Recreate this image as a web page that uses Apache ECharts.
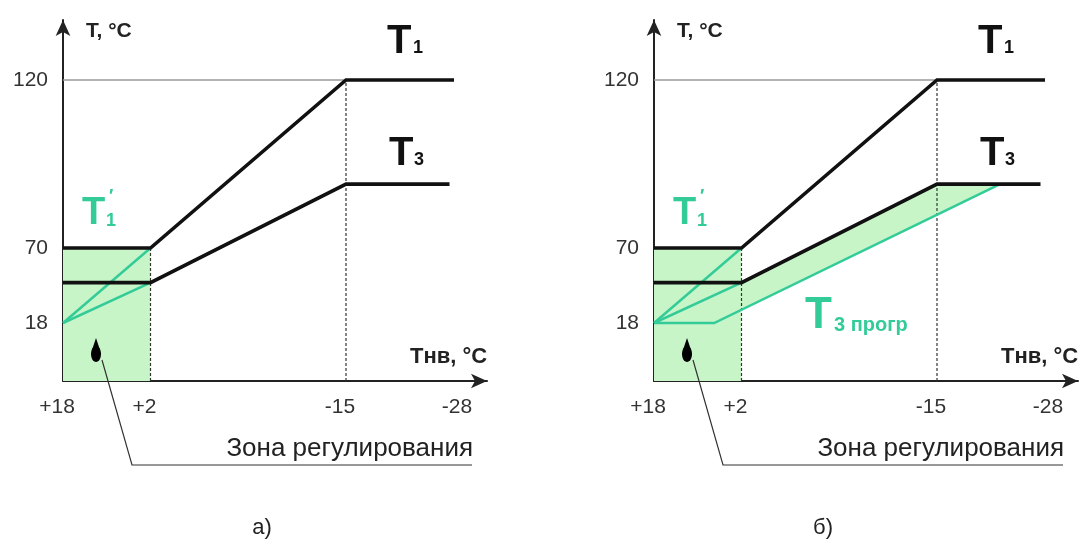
<!DOCTYPE html>
<html>
<head>
<meta charset="utf-8">
<script src="https://cdn.jsdelivr.net/npm/echarts@6/dist/echarts.min.js"></script>
<style>
html,body{margin:0;padding:0;background:#fff;}
#chart{width:1085px;height:549px;}
</style>
</head>
<body>
<div id="chart"></div>
<script>
// ---------- DATA (real values, °C) ----------
const xTickValues = [18, 2, -15, -28];
const xTickLabels = ['+18', '+2', '-15', '-28'];
const yTickValues = [18, 70, 120];
const yTickLabels = ['18', '70', '120'];

// T1: supply temperature schedule (Tнв, T)
const t1X = [18, 2, -15, -27];
const t1Y = [70, 70, 120, 120];
// T3: return temperature schedule
const t3X = [18, 2, -15, -26.5];
const t3Y = [46, 46, 89, 89];
// T1' (regulated zone lines)
const t1pUpperX = [18, 2];
const t1pUpperY = [18, 70];
const t1pLowerX = [18, 2];
const t1pLowerY = [18, 46];
// T3 прогр (panel б)
const t3pX = [18, 7, -22];
const t3pY = [18, 18, 89];
// Регулирование zone
const zoneX = [18, 2];
const zoneY = [0, 70];
// Reference line at 120 and dashed guides
const refLineX = [18, -15];
const refLineY = [120, 120];
const guide1X = [2, 2];
const guide1Y = [0, 70];
const guide2X = [-15, -15];
const guide2Y = [0, 120];

// ---------- schematic (non-uniform) scale definition ----------
const xScaleReal = [18, 2, -15, -28];
const xScalePos = [0, 87.5, 283, 400];
const yScaleReal = [0, 18, 70, 120];
const yScalePos = [0, 58, 133, 301];

function piece(v, reals, pos) {
  for (let i = 0; i < reals.length - 1; i++) {
    const a = reals[i], b = reals[i + 1];
    const lo = Math.min(a, b), hi = Math.max(a, b);
    if ((v >= lo && v <= hi) || i === reals.length - 2) {
      return pos[i] + (v - a) / (b - a) * (pos[i + 1] - pos[i]);
    }
  }
  return pos[0];
}
const sx = v => piece(v, xScaleReal, xScalePos);
const sy = v => piece(v, yScaleReal, yScalePos);
const pts = (xs, ys) => xs.map((x, i) => [sx(x), sy(ys[i])]);

const FONT = '"Liberation Sans", Arial, sans-serif';
const BLACK = '#111';
const GREEN = '#33cc99';
const FILL = '#c8f5c8';
const GW = 424, GH = 361;
const panels = [{ left: 63 }, { left: 654 }];

function nearestLabel(v, values, labels, f) {
  let best = 0, bd = Infinity;
  values.forEach((t, i) => { const d = Math.abs(f(t) - v); if (d < bd) { bd = d; best = i; } });
  return labels[best];
}

const grids = [], xAxes = [], yAxes = [], series = [];
panels.forEach((p, gi) => {
  grids.push({ left: p.left, top: 20, width: GW, height: GH });
  xAxes.push({
    type: 'value', gridIndex: gi, min: 0, max: GW,
    axisLine: { show: true, lineStyle: { color: '#222', width: 2 }, symbol: ['none', 'arrow'], symbolSize: [11, 16] },
    axisTick: { show: false }, splitLine: { show: false },
    axisLabel: {
      customValues: xTickValues.map(sx), margin: 16, color: '#333', fontSize: 21, fontFamily: FONT,
      padding: [0, 12, 0, 0],
      formatter: v => nearestLabel(v, xTickValues, xTickLabels, sx)
    }
  });
  yAxes.push({
    type: 'value', gridIndex: gi, min: 0, max: GH,
    axisLine: { show: true, lineStyle: { color: '#222', width: 2 }, symbol: ['none', 'arrow'], symbolSize: [11, 16] },
    axisTick: { show: false }, splitLine: { show: false },
    axisLabel: {
      customValues: yTickValues.map(sy), margin: 15, color: '#333', fontSize: 21, fontFamily: FONT,
      formatter: v => nearestLabel(v, yTickValues, yTickLabels, sy)
    }
  });

  const poly = (points, z) => ({
    type: 'custom', xAxisIndex: gi, yAxisIndex: gi, z: z, silent: true,
    data: [[0, 0]],
    renderItem: (params, api) => ({
      type: 'polygon',
      shape: { points: points.map(q => api.coord(q)) },
      style: { fill: FILL }
    })
  });
  const line = (data, color, width, z, type) => ({
    type: 'line', xAxisIndex: gi, yAxisIndex: gi, data: data, z: z, silent: true,
    showSymbol: false, symbol: 'none',
    lineStyle: { color: color, width: width, type: type || 'solid', join: 'miter', cap: 'butt' }
  });

  // zone rectangle
  series.push(poly(pts([zoneX[0], zoneX[1], zoneX[1], zoneX[0]], [zoneY[0], zoneY[0], zoneY[1], zoneY[1]]), 1));
  if (gi === 1) {
    // band between T3 and T3 прогр
    const band = pts(t3X.slice(0, 3), t3Y.slice(0, 3))
      .concat(pts([t3pX[2], t3pX[1], t3pX[0]], [t3pY[2], t3pY[1], t3pY[0]]));
    series.push(poly(band, 1));
  }
  series.push(line(pts(refLineX, refLineY), '#9a9a9a', 1.3, 2));
  series.push(line(pts(guide1X, guide1Y), '#333', 1.2, 2, [3, 2]));
  series.push(line(pts(guide2X, guide2Y), '#333', 1.2, 2, [3, 2]));
  series.push(line(pts(t1pUpperX, t1pUpperY), GREEN, 2.5, 3));
  series.push(line(pts(t1pLowerX, t1pLowerY), GREEN, 2.5, 3));
  if (gi === 1) series.push(line(pts(t3pX, t3pY), GREEN, 2.5, 3));
  series.push(line(pts(t1X, t1Y), BLACK, 3.6, 4));
  series.push(line(pts(t3X, t3Y), BLACK, 3.6, 4));
});

// ---------- annotations ----------
const graphic = [];
function txt(x, y, text, size, color, opts) {
  graphic.push(Object.assign({
    type: 'text', x: x, y: y, silent: true, z: 10,
    style: Object.assign({ text: text, fill: color, font: (opts && opts.weight || 'normal') + ' ' + size + 'px ' + FONT,
      align: 'left', verticalAlign: 'middle' }, opts && opts.style)
  }));
}
panels.forEach((p, gi) => {
  const o = p.left - 63;
  txt(86 + o, 31, 'T, °C', 21, '#222', { weight: 'bold' });
  txt(410 + o, 357, 'Тнв, °C', 22, '#222', { weight: 'bold' });
  txt(387 + o, 42, 'T', 40, BLACK, { weight: 'bold' });
  txt(413 + o, 48, '1', 18, BLACK, { weight: 'bold' });
  txt(389 + o, 154, 'T', 40, BLACK, { weight: 'bold' });
  txt(414 + o, 160, '3', 18, BLACK, { weight: 'bold' });
  txt(82 + o, 214, 'T', 38, GREEN, { weight: 'bold' });
  txt(106 + o, 221, '1', 18, GREEN, { weight: 'bold' });
  txt(109 + o, 197, '′', 18, GREEN, { weight: 'bold' });
  // blob marker and pointer to zone label
  graphic.push({ type: 'ellipse', silent: true, z: 10, shape: { cx: 96 + o, cy: 354, rx: 5, ry: 8 }, style: { fill: '#000' } });
  graphic.push({ type: 'polygon', silent: true, z: 10, shape: { points: [[92 + o, 350], [96 + o, 338], [100 + o, 350]] }, style: { fill: '#000' } });
  graphic.push({ type: 'polyline', silent: true, z: 10,
    shape: { points: [[102 + o, 360], [132 + o, 465], [472 + o, 465]] },
    style: { stroke: '#333', lineWidth: 1.2, fill: null } });
  txt(473 + o, 449, 'Зона регулирования', 26, '#222', { style: { align: 'right' } });
});
txt(805, 316, 'T', 44, GREEN, { weight: 'bold' });
txt(834, 325, '3 прогр', 20, GREEN, { weight: 'bold' });
txt(262, 528, 'а)', 22, '#222', { style: { align: 'center' } });
txt(823, 528, 'б)', 22, '#222', { style: { align: 'center' } });

const chart = echarts.init(document.getElementById('chart'), null, { renderer: 'canvas' });
chart.setOption({
  animation: false,
  backgroundColor: '#fff',
  grid: grids,
  xAxis: xAxes,
  yAxis: yAxes,
  series: series,
  graphic: graphic,
  tooltip: { show: false }
});
</script>
</body>
</html>
